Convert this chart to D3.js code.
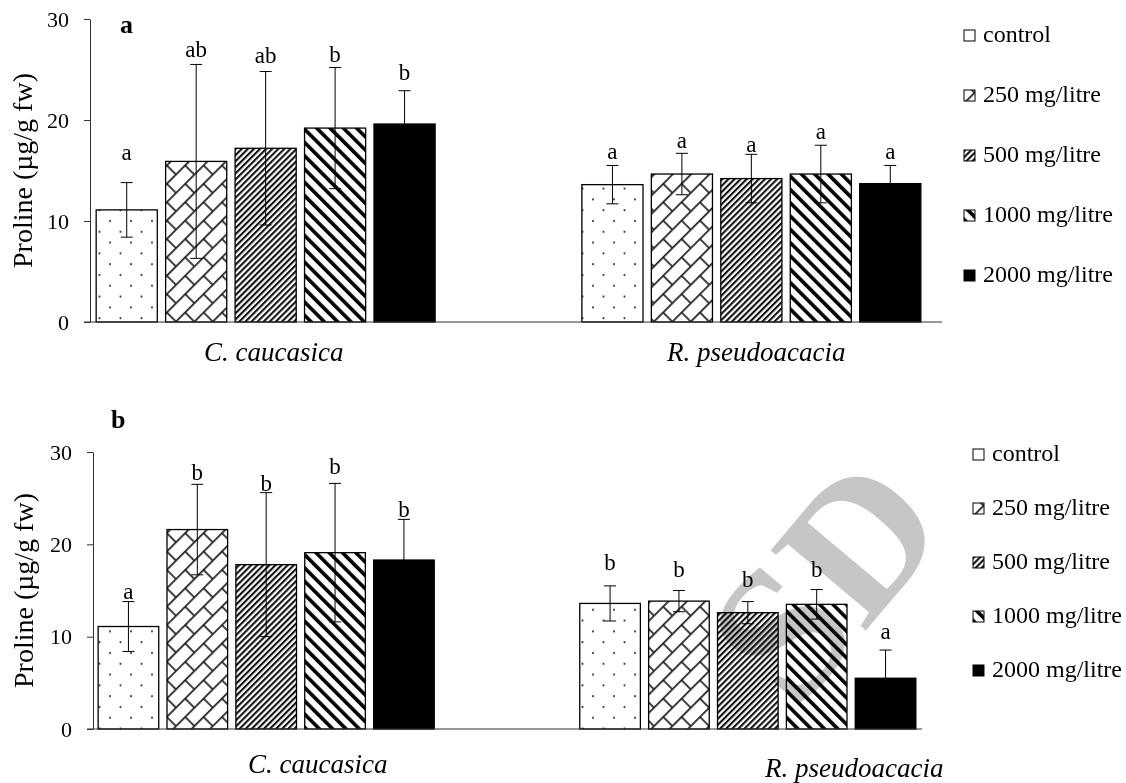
<html>
<head>
	<meta charset='utf-8' />
	<title>Proline content</title>
	<script src="https://cdn.jsdelivr.net/npm/d3@7/dist/d3.min.js"></script>
	<style>
	body { margin: 0; background: #fff; }
	text { font-family: "Liberation Serif", "Times New Roman", serif; fill: #000; }
	</style>
</head>
<body>
<script>

	// ---- data ----
	var species = ["C. caucasica", "R. pseudoacacia"];
	var treatments = ["control", "250 mg/litre", "500 mg/litre", "1000 mg/litre", "2000 mg/litre"];
	var yTicks = [0, 10, 20, 30];

	// panel a
	var meanA_cc = [11.1, 15.9, 17.2, 19.2, 19.6];
	var sdA_cc = [2.7, 9.6, 7.6, 6.0, 3.3];
	var meanA_rp = [13.6, 14.65, 14.2, 14.65, 13.7];
	var sdA_rp = [1.9, 2.05, 2.4, 2.85, 1.8];
	var letterA_cc = ["a", "ab", "ab", "b", "b"];
	var letterA_rp = ["a", "a", "a", "a", "a"];
	var letterLevelA_cc = [16.0, 26.2, 25.6, 25.7, 24.0];
	var letterLevelA_rp = [16.1, 17.2, 16.8, 18.1, 16.1];

	// panel b
	var meanB_cc = [11.1, 21.6, 17.8, 19.1, 18.3];
	var sdB_cc = [2.7, 4.9, 7.8, 7.5, 4.4];
	var meanB_rp = [13.6, 13.85, 12.6, 13.5, 5.5];
	var sdB_rp = [1.9, 1.15, 1.2, 1.6, 3.05];
	var letterB_cc = ["a", "b", "b", "b", "b"];
	var letterB_rp = ["b", "b", "b", "b", "a"];
	var letterLevelB_cc = [14.1, 27.0, 25.8, 27.6, 23.0];
	var letterLevelB_rp = [17.2, 16.5, 15.4, 16.5, 9.75];

	var width = 1126, height = 783;

	var svg = d3.select("body").append("svg")
		.attr("width", width)
		.attr("height", height);

	// ---- fill patterns ----
	var defs = svg.append("defs");

	var pDots = defs.append("pattern").attr("id", "p-control")
		.attr("patternUnits", "userSpaceOnUse").attr("width", 21).attr("height", 21.6);
	pDots.append("rect").attr("width", 21).attr("height", 21.6).attr("fill", "#fff");
	pDots.append("circle").attr("cx", 5).attr("cy", 5).attr("r", 1.1).attr("fill", "#333");
	pDots.append("circle").attr("cx", 15.5).attr("cy", 15.8).attr("r", 1.1).attr("fill", "#333");

	var pBrick = defs.append("pattern").attr("id", "p-250")
		.attr("patternUnits", "userSpaceOnUse").attr("width", 26).attr("height", 26)
		.attr("patternTransform", "rotate(-45)");
	pBrick.append("rect").attr("width", 26).attr("height", 26).attr("fill", "#fff");
	pBrick.append("path")
		.attr("d", "M0,0.8H26M0,13.8H26M1,0V13M14,13V26")
		.attr("stroke", "#222").attr("stroke-width", 1.7).attr("fill", "none");

	var p500 = defs.append("pattern").attr("id", "p-500")
		.attr("patternUnits", "userSpaceOnUse").attr("width", 4.3).attr("height", 10)
		.attr("patternTransform", "rotate(45)");
	p500.append("rect").attr("width", 4.3).attr("height", 10).attr("fill", "#fff");
	p500.append("rect").attr("width", 2.1).attr("height", 10).attr("fill", "#111");

	var p1000 = defs.append("pattern").attr("id", "p-1000")
		.attr("patternUnits", "userSpaceOnUse").attr("width", 9.4).attr("height", 10)
		.attr("patternTransform", "rotate(-45)");
	p1000.append("rect").attr("width", 9.4).attr("height", 10).attr("fill", "#fff");
	p1000.append("rect").attr("width", 3.6).attr("height", 10).attr("fill", "#000");

	var fills = ["url(#p-control)", "url(#p-250)", "url(#p-500)", "url(#p-1000)", "#000"];

	// ---- panel layouts ----
	var panels = [
		{tag: "a", tagX: 120, tagY: 33, top: 19, bottom: 322, axisX: 90, axisEnd: 942, range: [92, 925],
		 means: [meanA_cc, meanA_rp], sds: [sdA_cc, sdA_rp], letters: [letterA_cc, letterA_rp],
		 levels: [letterLevelA_cc, letterLevelA_rp],
		 labelX: [204, 667], labelY: [361, 361], titleX: 32,
		 legendX: 964, legendY: 42, legendStep: 60},
		{tag: "b", tagX: 111, tagY: 428, top: 452, bottom: 729, axisX: 93, axisEnd: 922, range: [94, 920],
		 means: [meanB_cc, meanB_rp], sds: [sdB_cc, sdB_rp], letters: [letterB_cc, letterB_rp],
		 levels: [letterLevelB_cc, letterLevelB_rp],
		 labelX: [248, 765], labelY: [773, 777], titleX: 33,
		 legendX: 973, legendY: 461, legendStep: 54}
	];

	panels.forEach(function(p) {
		var g = svg.append("g");

		var yScale = d3.scaleLinear().domain([0, 30]).range([p.bottom, p.top]);
		var x0 = d3.scaleBand().domain(species).range(p.range).paddingInner(0.285);
		var x1 = d3.scaleBand().domain(treatments).range([0, x0.bandwidth()])
			.paddingInner(0.12).paddingOuter(0.06);

		var rows = [];
		species.forEach(function(s, si) {
			treatments.forEach(function(t, ti) {
				rows.push({sp: s, tr: t, ti: ti, mean: p.means[si][ti], sd: p.sds[si][ti],
					letter: p.letters[si][ti], level: p.levels[si][ti]});
			});
		});

		// bars
		g.selectAll("rect.bar").data(rows).enter().append("rect")
			.attr("class", "bar")
			.attr("x", d => x0(d.sp) + x1(d.tr))
			.attr("y", d => yScale(d.mean))
			.attr("width", x1.bandwidth())
			.attr("height", d => yScale(0) - yScale(d.mean))
			.attr("fill", d => fills[d.ti])
			.attr("stroke", "#000")
			.attr("stroke-width", 1.3);

		// error bars
		var cx = d => x0(d.sp) + x1(d.tr) + x1.bandwidth() / 2;
		var err = g.selectAll("g.err").data(rows).enter().append("g").attr("class", "err")
			.attr("stroke", "#000").attr("stroke-width", 1);
		err.append("line")
			.attr("x1", cx).attr("x2", cx)
			.attr("y1", d => yScale(d.mean + d.sd)).attr("y2", d => yScale(d.mean - d.sd));
		err.append("line")
			.attr("x1", d => cx(d) - 6).attr("x2", d => cx(d) + 6)
			.attr("y1", d => yScale(d.mean + d.sd)).attr("y2", d => yScale(d.mean + d.sd));
		err.append("line")
			.attr("x1", d => cx(d) - 6).attr("x2", d => cx(d) + 6)
			.attr("y1", d => yScale(d.mean - d.sd)).attr("y2", d => yScale(d.mean - d.sd));

		// significance letters
		g.selectAll("text.sig").data(rows).enter().append("text")
			.attr("class", "sig")
			.attr("x", cx)
			.attr("y", d => yScale(d.level))
			.attr("text-anchor", "middle")
			.attr("font-size", 23)
			.text(d => d.letter);

		// y axis
		var yAxis = g.append("g")
			.attr("transform", "translate(" + p.axisX + ",0)")
			.call(d3.axisLeft(yScale).tickValues(yTicks).tickSize(6).tickSizeOuter(0).tickPadding(15));
		yAxis.selectAll("path, line").attr("stroke", "#333");
		yAxis.selectAll("text").attr("font-size", 22)
			.style("font-family", '"Liberation Serif", "Times New Roman", serif');

		// x axis baseline
		g.append("line")
			.attr("x1", p.axisX - 6).attr("x2", p.axisEnd)
			.attr("y1", yScale(0)).attr("y2", yScale(0))
			.attr("stroke", "#333");

		// category labels
		species.forEach(function(s, si) {
			g.append("text")
				.attr("x", p.labelX[si])
				.attr("y", p.labelY[si])
				.attr("font-size", 27)
				.attr("font-style", "italic")
				.text(s);
		});

		// y title
		g.append("text")
			.attr("transform", "translate(" + p.titleX + "," + ((p.top + p.bottom) / 2) + ") rotate(-90)")
			.attr("text-anchor", "middle")
			.attr("font-size", 28)
			.text("Proline (\u00b5g/g fw)");

		// panel tag
		g.append("text")
			.attr("x", p.tagX).attr("y", p.tagY)
			.attr("font-size", 26).attr("font-weight", "bold")
			.text(p.tag);

		// legend
		var leg = g.selectAll("g.leg").data(treatments).enter().append("g").attr("class", "leg")
			.attr("transform", (d, i) => "translate(" + p.legendX + "," + (p.legendY + i * p.legendStep) + ")");
		leg.append("rect")
			.attr("x", 0).attr("y", -12).attr("width", 11).attr("height", 11)
			.attr("fill", (d, i) => fills[i])
			.attr("stroke", "#000").attr("stroke-width", 1);
		leg.append("text")
			.attr("x", 19).attr("y", 0)
			.attr("font-size", 24)
			.text(d => d);
	});

	// grey watermark over the lower panel
	svg.append("text")
		.attr("transform", "translate(952,528) rotate(-50)")
		.attr("text-anchor", "end")
		.attr("font-size", 190)
		.attr("font-weight", "bold")
		.style("fill", "#c6c6c6")
		.style("mix-blend-mode", "multiply")
		.text("SD");

</script>
</body>
</html>
